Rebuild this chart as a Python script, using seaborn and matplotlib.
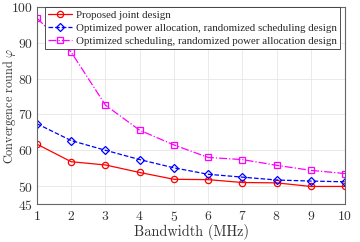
import numpy as np
import pandas as pd
import seaborn as sns
import matplotlib
matplotlib.use("Agg")
import matplotlib.pyplot as plt

bandwidth = [1, 2, 3, 4, 5, 6, 7, 8, 9, 10]
proposed = [61.7, 56.8, 55.9, 53.8, 51.9, 51.8, 51.0, 50.9, 49.9, 49.9]
opt_power = [67.4, 62.7, 60.0, 57.4, 55.1, 53.3, 52.5, 51.7, 51.4, 51.2]
opt_sched = [96.9, 87.4, 72.6, 65.6, 61.5, 58.0, 57.4, 55.8, 54.4, 53.5]
labels = ["Proposed joint design",
          "Optimized power allocation, randomized scheduling design",
          "Optimized scheduling, randomized power allocation design"]
yticks = [45, 50, 60, 70, 80, 90, 100]

sns.set_theme(style="whitegrid")
plt.rcParams['font.family'] = ['cmr10', 'DejaVu Serif']
plt.rcParams['mathtext.fontset'] = 'cm'
plt.rcParams['axes.formatter.use_mathtext'] = True

fig = plt.figure(figsize=(3.6, 2.42), dpi=100)
ax = fig.add_axes([37/360, 1-204/242, 308/360, 197/242])

df = pd.DataFrame({"x": bandwidth * 3,
                   "y": proposed + opt_power + opt_sched,
                   "s": [labels[0]] * 10 + [labels[1]] * 10 + [labels[2]] * 10})

styles = [("red", "o", "-"), ("blue", "D", "--"), ("magenta", "s", "-.")]
for (c, m, ls), lab in zip(styles, labels):
    sub = df[df.s == lab]
    sns.lineplot(data=sub, x="x", y="y", ax=ax, color=c, marker=m, linestyle=ls,
                 markerfacecolor="none", markeredgecolor=c, markeredgewidth=0.9,
                 markersize=4.5 if m != "D" else 3.8, linewidth=0.9, label=lab)

ax.set_xlim(1, 10)
ax.set_ylim(45, 100)
ax.set_xticks(bandwidth)
ax.set_yticks(yticks)
ax.tick_params(direction="in", labelsize=9.8, length=3, color="#555555", pad=3,
               labelcolor="#333333")
ax.tick_params(axis="x", pad=4.5)
ax.grid(True, color="#e6e6e6", linewidth=0.6)
for sp in ax.spines.values():
    sp.set_color("#666666")
    sp.set_linewidth(0.8)
ax.set_facecolor("white")
ax.set_xlabel("Bandwidth (MHz)", fontsize=10.3, labelpad=0, color="#333333")
ax.set_ylabel(r"Convergence round $\varphi$", fontsize=8.8, color="#333333")
ax.yaxis.set_label_coords(-0.062, 0.5)

leg = ax.legend(loc="upper left", bbox_to_anchor=(0.026, 1.0),
                prop={"family": "Liberation Serif", "size": 7.85},
                frameon=True, fancybox=False, framealpha=1, edgecolor="#333333",
                borderpad=0.3, labelspacing=0.3, handlelength=2.2, handletextpad=0.3,
                borderaxespad=0)
leg.get_frame().set_linewidth(0.6)

fig.savefig("out.png", dpi=100)
